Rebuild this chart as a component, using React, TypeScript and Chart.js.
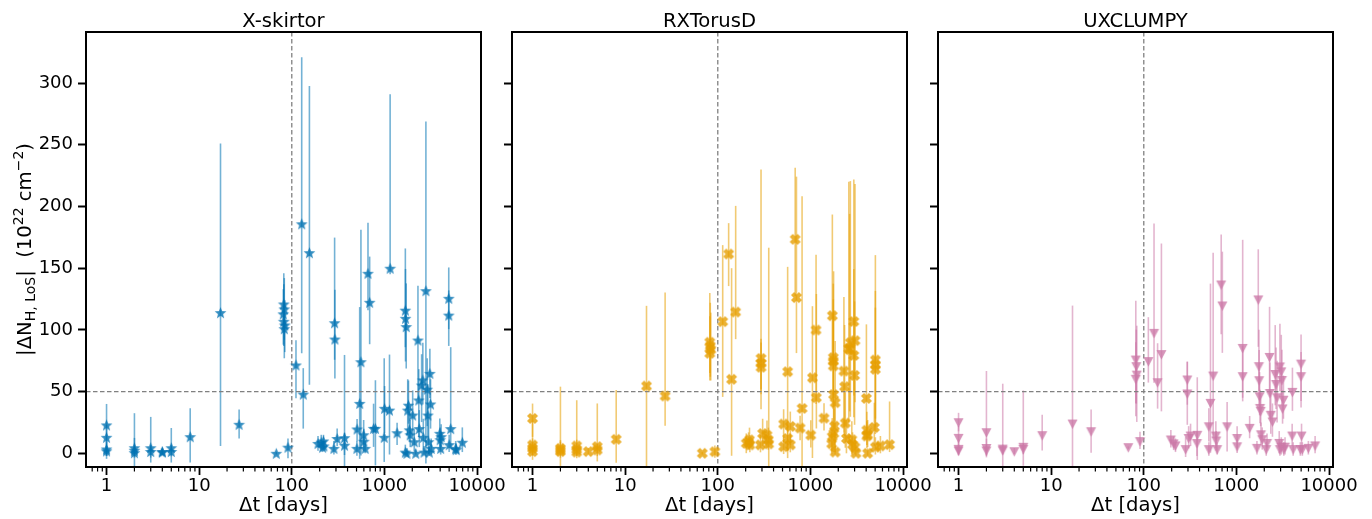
import React, { useEffect, useRef } from 'react';
import { Chart, registerables } from 'chart.js';

Chart.register(...registerables);

const FONT = "'DejaVu Sans', sans-serif";
Chart.defaults.font.family = FONT;

const panelTitles = ['X-skirtor', 'RXTorusD', 'UXCLUMPY'];
const xAxisLabel = 'Δt [days]';
const xTickValues = [
  0.7, 0.8, 0.9, 1, 2, 3, 4, 5, 6, 7, 8, 9, 10, 20, 30, 40, 50, 60, 70, 80, 90, 100,
  200, 300, 400, 500, 600, 700, 800, 900, 1000, 2000, 3000, 4000, 5000, 6000, 7000, 8000, 9000, 10000,
];
const xMajorTicks = [1, 10, 100, 1000, 10000];
const yTickValues = [0, 50, 100, 150, 200, 250, 300];
const xRange = [0.638, 11040];
const yRange = [-11.1, 341.4];
const refDt = 100;
const refNh = 50;

// [Δt (days), |ΔNH| (1e22 cm^-2), lower error, upper error]
const skirtorPoints = [
  [1, 23, 25, 17], [1, 13, 15, 10], [1, 3.5, 8, 6], [1, 2, 4, 4],
  [2, 4.5, 16, 28], [2, 2.5, 6, 10], [2, 0.5, 3, 5],
  [3, 4.5, 12, 25], [3, 1.5, 5, 5], [4, 1, 2, 3], [4, 1.5, 2, 2],
  [5, 4.5, 12, 16], [5, 1.5, 4, 5], [8, 13.5, 21, 23], [17, 114, 108, 137], [27, 23.5, 11.5, 12],
  [68, 0, 1, 1], [91, 5, 9, 7],
  [82, 121, 20, 25], [83, 117, 25, 25], [81, 113, 25, 20], [82, 107, 20, 30], [84, 104, 22, 20], [83, 101, 24, 20],
  [111, 71.6, 27, 20], [128, 186, 105, 135], [133, 48, 28, 21], [155, 162.6, 107, 135],
  [192, 8, 6, 6], [208, 9, 5, 6], [215, 5, 4, 5], [220, 10, 6, 5], [222, 6, 4, 4],
  [285, 4, 5, 6], [290, 105.8, 30, 69], [292, 92.6, 32, 40], [309, 12, 6, 8],
  [371, 12.7, 25, 67], [371, 6.6, 8, 10], [507, 19.7, 10, 8], [505, 4, 6, 6],
  [541, 40.5, 45, 78], [558, 74.2, 76, 107], [597, 15, 10, 12], [600, 9.8, 8, 10], [620, 4, 4, 6],
  [665, 145.9, 30, 41], [693, 122.4, 34, 37], [764, 20.2, 15, 20], [800, 20.2, 30, 39],
  [995, 13, 20, 64], [1005, 36.5, 20, 18], [1135, 35, 36, 45], [1153, 150, 5, 141], [1371, 16.7, 10, 8],
  [1683, 116, 30, 50], [1690, 109.4, 35, 40], [1720, 102.7, 34, 35], [1683, 1, 2, 6], [1750, 0, 1, 4],
  [1786, 35, 20, 25], [1820, 39, 15, 20], [1862, 19, 10, 15], [1900, 15, 10, 12], [2020, 31, 15, 20],
  [2100, 9.4, 8, 10], [2177, 0, 1, 3], [2303, 91.8, 48, 44], [2350, 43.2, 30, 25], [2380, 20, 15, 15],
  [2523, 55.3, 30, 25], [2600, 59.5, 20, 30], [2630, 13, 10, 15], [2680, 1, 2, 5], [2806, 131.8, 140, 137],
  [2900, 52, 30, 25], [2950, 31, 20, 25], [3000, 9.4, 10, 20], [3050, 1, 3, 5], [3097, 64.8, 20, 20],
  [3150, 40, 20, 20], [3200, 4, 5, 8], [3964, 16.2, 10, 12], [4000, 11, 8, 10], [4050, 4, 5, 8],
  [4100, 13.5, 8, 10], [4952, 125.6, 25, 25], [4952, 112, 25, 20], [5000, 7, 6, 8], [5200, 20, 15, 66],
  [5888, 4, 5, 6], [5950, 3, 4, 5], [6940, 9, 8, 12],
];

const rxtorusPoints = [
  [1, 28.3, 15, 12], [1, 6.7, 12, 20], [1, 4, 6, 8], [1, 1.4, 3, 5],
  [2, 4, 15, 50], [2, 1.4, 5, 8], [2, 2.7, 5, 8],
  [3, 6, 10, 37], [3, 3, 5, 8], [3, 1, 3, 5], [4, 1.4, 2, 3],
  [5, 5.4, 12, 35], [5, 2.7, 5, 5], [8, 11.3, 19, 40], [17, 54.5, 68, 65], [27, 46.4, 24, 84],
  [68, 0, 1, 1], [93, 1.3, 5, 5],
  [82, 90, 25, 40], [83, 87, 25, 35], [84, 84, 25, 30], [82, 81, 22, 30],
  [113, 106.7, 61, 62], [131, 161.5, 26, 25], [141, 60, 62, 90], [156, 114.5, 22, 86],
  [203, 8.1, 8, 8], [215, 9, 6, 8], [220, 10.8, 8, 10], [222, 6.8, 6, 8], [289, 6.8, 6, 8],
  [293, 76.9, 25, 153], [293, 72.9, 25, 20], [293, 69.7, 34, 20], [305, 16, 10, 12],
  [340, 14.6, 10, 12], [352, 10.8, 8, 10], [355, 7.6, 20, 159],
  [514, 23.7, 15, 12], [514, 5.4, 6, 8], [568, 66.1, 70, 85], [568, 12, 10, 12],
  [607, 21.8, 15, 12], [607, 6.8, 6, 8], [685, 173.4, 46, 58], [707, 126.2, 45, 98],
  [774, 20.5, 10, 10], [813, 36.4, 50, 172], [1010, 14.7, 10, 12], [1052, 61.2, 65, 58],
  [1151, 99.9, 60, 61], [1160, 45.1, 25, 84], [1403, 28.5, 10, 12],
  [1726, 111.5, 40, 82], [1766, 77.5, 30, 60], [1766, 74.8, 30, 50], [1766, 70.8, 35, 40],
  [1780, 47.5, 30, 100], [1790, 16, 15, 20], [1720, 13.5, 12, 15], [1700, 7.7, 8, 10],
  [1820, 22, 15, 20], [1850, 41, 40, 50], [1850, 1, 2, 5],
  [2300, 66.6, 50, 60], [2340, 54, 40, 50], [2380, 24.5, 20, 25], [2450, 12, 12, 15],
  [2600, 85, 60, 135], [2650, 84, 50, 110], [2700, 89.6, 60, 131], [2800, 11, 12, 15], [2850, 7, 8, 10],
  [2944, 106.8, 60, 115], [2944, 79.3, 50, 70], [3000, 63.1, 40, 60], [3030, 91.3, 50, 127],
  [3030, 5, 6, 8], [3100, 0, 2, 5],
  [4025, 44.5, 30, 60], [4070, 18.7, 12, 15], [4070, 14, 10, 12], [4150, 15, 10, 12], [4150, 0, 2, 4],
  [4900, 21, 15, 20], [5030, 75.6, 60, 85], [5030, 71.6, 50, 60], [5030, 68.1, 40, 50], [5030, 5, 6, 8],
  [5700, 6, 6, 8], [7160, 7, 6, 35],
];

const uxclumpyPoints = [
  [1, 24.8, 7, 8], [1, 12.1, 8, 10], [1, 3.2, 5, 8], [1, 1.9, 3, 5],
  [2, 16.7, 20, 50], [2, 3.9, 6, 8], [2, 1.9, 3, 5],
  [3, 3.4, 15, 53], [3, 2.1, 3, 5], [4, 1.3, 2, 3],
  [5, 4.9, 15, 46], [5, 3.2, 4, 5], [8, 14.3, 12, 17], [17, 23.7, 35, 96], [27, 17.5, 17, 18],
  [68, 4.6, 1, 1], [91, 9.5, 6, 8],
  [82, 75.6, 35, 48], [83, 70.2, 30, 30], [84, 63.4, 38, 40], [82, 60, 30, 30],
  [112, 74.3, 17, 36], [129, 97.2, 40, 89], [141, 57.2, 21, 32], [155, 80, 46, 90],
  [196, 10.8, 6, 8], [210, 7.6, 5, 6], [220, 6, 5, 6], [283, 3, 6, 10],
  [295, 59.4, 20, 15], [295, 48.1, 25, 26], [305, 12, 8, 10], [320, 14, 8, 10],
  [378, 14.6, 20, 47], [375, 7.9, 10, 10], [504, 21.5, 12, 15], [504, 3, 5, 6],
  [525, 40.5, 40, 97], [561, 62.6, 50, 100], [600, 14, 10, 12], [605, 10, 8, 8], [620, 3, 4, 6],
  [685, 136.4, 40, 41], [705, 119.4, 38, 44], [794, 21.5, 20, 20],
  [1018, 12, 8, 10], [1018, 5.3, 5, 6], [1169, 85, 40, 88], [1169, 62.1, 20, 25], [1390, 20.2, 8, 10],
  [1667, 4, 5, 6], [1722, 124.3, 38, 41], [1750, 70.2, 20, 30], [1760, 58.8, 20, 25],
  [1780, 45.8, 15, 20], [1800, 36.4, 12, 15], [1830, 34, 12, 15], [1842, 15, 8, 10], [1900, 11, 8, 10],
  [2100, 3, 5, 6], [2140, 8, 6, 8], [2280, 77.7, 30, 41], [2300, 48.5, 20, 25], [2350, 30.8, 15, 20],
  [2450, 25.4, 12, 15], [2624, 63.9, 25, 40], [2680, 55.8, 20, 30], [2750, 45, 20, 30],
  [2900, 8, 8, 10], [2950, 3, 5, 6], [2950, 70, 20, 35], [3050, 5, 6, 8], [3050, 66, 20, 30],
  [3100, 59, 20, 25], [3150, 36, 12, 15], [3220, 43, 15, 20], [3250, 3, 5, 6], [3350, 5, 6, 8],
  [4000, 14, 8, 10], [4027, 49.4, 15, 20], [4100, 3, 5, 6], [4900, 3, 5, 6],
  [4990, 72.3, 30, 24], [4990, 62.1, 25, 20], [5050, 14, 8, 10], [5150, 3, 5, 6],
  [5983, 4, 5, 6], [7075, 6, 6, 8],
];

const panelData = [skirtorPoints, rxtorusPoints, uxclumpyPoints];
const panelRgb = ['0,114,178', '230,159,0', '204,121,167'];
const panelMarkers = ['star', 'x', 'tri'];

const layoutCfg = [
  { left: 0, width: 520, yAxisWidth: 86, rightPad: 39, yLabels: true },
  { left: 490, width: 470, yAxisWidth: 22, rightPad: 53, yLabels: false },
  { left: 915, width: 457, yAxisWidth: 23, rightPad: 39, yLabels: false },
];

const TICK_SIZE = 18;
const LABEL_SIZE = 19.6;

function makeMarker(kind: string, rgb: string) {
  const size = 13;
  const c = document.createElement('canvas');
  c.width = size;
  c.height = size;
  const g = c.getContext('2d')!;
  const cx = size / 2;
  const cy = size / 2;
  g.fillStyle = `rgba(${rgb},0.8)`;
  g.beginPath();
  if (kind === 'star') {
    const R = 6.2;
    const r = R * 0.43;
    for (let i = 0; i < 10; i++) {
      const a = -Math.PI / 2 + (i * Math.PI) / 5;
      const rad = i % 2 === 0 ? R : r;
      g.lineTo(cx + rad * Math.cos(a), cy + 0.7 + rad * Math.sin(a));
    }
    g.closePath();
  } else if (kind === 'x') {
    const R = 5.6;
    const w = 2.2;
    for (const ang of [Math.PI / 4, -Math.PI / 4]) {
      const ca = Math.cos(ang);
      const sa = Math.sin(ang);
      const pts = [[-R, -w], [R, -w], [R, w], [-R, w]];
      pts.forEach(([px, py], i) => {
        const X = cx + px * ca - py * sa;
        const Y = cy + px * sa + py * ca;
        if (i === 0) g.moveTo(X, Y);
        else g.lineTo(X, Y);
      });
      g.closePath();
    }
  } else {
    g.moveTo(1.5, 2);
    g.lineTo(size - 1.5, 2);
    g.lineTo(cx, size - 1.5);
    g.closePath();
  }
  g.fill('nonzero');
  return c;
}

function drawYLabel(ctx: CanvasRenderingContext2D, cx: number, cy: number) {
  const big = LABEL_SIZE;
  const small = 14;
  const parts = [
    { t: '|ΔN', s: big, dy: 0 },
    { t: 'H, LoS', s: small, dy: 4 },
    { t: '|', s: big, dy: 0 },
    { t: '  (10', s: big, dy: 0 },
    { t: '22', s: small, dy: -8 },
    { t: ' cm', s: big, dy: 0 },
    { t: '−2', s: small, dy: -8 },
    { t: ')', s: big, dy: 0 },
  ];
  let total = 0;
  const widths = parts.map((p) => {
    ctx.font = `${p.s}px ${FONT}`;
    const w = ctx.measureText(p.t).width;
    total += w;
    return w;
  });
  ctx.save();
  ctx.translate(cx, cy);
  ctx.rotate(-Math.PI / 2);
  ctx.fillStyle = '#000';
  ctx.textAlign = 'left';
  ctx.textBaseline = 'alphabetic';
  let x = -total / 2;
  parts.forEach((p, i) => {
    ctx.font = `${p.s}px ${FONT}`;
    ctx.fillText(p.t, x, p.dy);
    x += widths[i];
  });
  ctx.restore();
}

const isMajor = (v: number) => xMajorTicks.includes(v);

export default function App() {
  const refs = [useRef<HTMLCanvasElement>(null), useRef<HTMLCanvasElement>(null), useRef<HTMLCanvasElement>(null)];

  useEffect(() => {
    const charts: Chart[] = [];
    panelData.forEach((points, idx) => {
      const canvas = refs[idx].current;
      if (!canvas) return;
      const cfg = layoutCfg[idx];
      const rgb = panelRgb[idx];
      const marker = makeMarker(panelMarkers[idx], rgb);
      const title = panelTitles[idx];

      const decor = {
        id: 'decor' + idx,
        beforeDatasetsDraw(chart: any) {
          const { ctx, chartArea: a, scales } = chart;
          const x = scales.x;
          const y = scales.y;
          ctx.save();
          ctx.beginPath();
          ctx.rect(a.left, a.top, a.right - a.left, a.bottom - a.top);
          ctx.clip();
          ctx.strokeStyle = `rgba(${rgb},0.55)`;
          ctx.lineWidth = 1.6;
          points.forEach((p) => {
            const px = x.getPixelForValue(p[0]);
            ctx.beginPath();
            ctx.moveTo(px, y.getPixelForValue(p[1] - p[2]));
            ctx.lineTo(px, y.getPixelForValue(p[1] + p[3]));
            ctx.stroke();
          });
          ctx.setLineDash([4.5, 2.5]);
          ctx.strokeStyle = '#808080';
          ctx.lineWidth = 1.3;
          const vx = x.getPixelForValue(refDt);
          ctx.beginPath();
          ctx.moveTo(vx, a.top);
          ctx.lineTo(vx, a.bottom);
          ctx.stroke();
          const hy = y.getPixelForValue(refNh);
          ctx.beginPath();
          ctx.moveTo(a.left, hy);
          ctx.lineTo(a.right, hy);
          ctx.stroke();
          ctx.restore();
        },
        afterDraw(chart: any) {
          const { ctx, chartArea: a, scales } = chart;
          const x = scales.x;
          ctx.save();
          ctx.strokeStyle = '#000';
          ctx.lineWidth = 1.2;
          xTickValues.forEach((v) => {
            if (isMajor(v)) return;
            const px = x.getPixelForValue(v);
            ctx.beginPath();
            ctx.moveTo(px, a.bottom);
            ctx.lineTo(px, a.bottom + 4.5);
            ctx.stroke();
          });
          ctx.lineWidth = 2;
          ctx.strokeRect(a.left, a.top, a.right - a.left, a.bottom - a.top);
          ctx.fillStyle = '#000';
          ctx.font = `${LABEL_SIZE}px ${FONT}`;
          ctx.textAlign = 'center';
          ctx.textBaseline = 'alphabetic';
          ctx.fillText(title, (a.left + a.right) / 2, 27);
          if (cfg.yLabels) drawYLabel(ctx, 31, (a.top + a.bottom) / 2);
          ctx.restore();
        },
      };

      const chart = new Chart(canvas, {
        type: 'scatter',
        data: {
          datasets: [
            {
              data: points.map((p) => ({ x: p[0], y: p[1] })),
              pointStyle: marker as any,
              pointRadius: 6,
              pointHoverRadius: 6,
            },
          ],
        },
        options: {
          responsive: false,
          animation: false,
          events: [],
          layout: { padding: { left: 0, top: 32, right: cfg.rightPad, bottom: 0 } },
          plugins: { legend: { display: false }, tooltip: { enabled: false } },
          scales: {
            x: {
              type: 'logarithmic',
              min: xRange[0],
              max: xRange[1],
              afterBuildTicks: (s: any) => {
                s.ticks = xTickValues.map((v) => ({ value: v, major: isMajor(v) }));
              },
              afterFit: (s: any) => {
                s.height = 52;
              },
              ticks: {
                autoSkip: false,
                maxRotation: 0,
                minRotation: 0,
                padding: 1,
                color: '#000',
                font: { family: FONT, size: TICK_SIZE },
                callback: (v: any) => (isMajor(Number(v)) ? String(v) : ''),
              },
              grid: {
                display: true,
                drawOnChartArea: false,
                drawTicks: true,
                tickLength: 8,
                tickWidth: 1.8,
                tickColor: (c: any) => (c.tick && isMajor(c.tick.value) ? '#000' : 'rgba(0,0,0,0)'),
              },
              border: { display: false },
              title: {
                display: true,
                text: xAxisLabel,
                color: '#000',
                font: { family: FONT, size: LABEL_SIZE },
                padding: { top: 0, bottom: 1 },
              },
            },
            y: {
              type: 'linear',
              min: yRange[0],
              max: yRange[1],
              afterBuildTicks: (s: any) => {
                s.ticks = yTickValues.map((v) => ({ value: v }));
              },
              afterFit: (s: any) => {
                s.width = cfg.yAxisWidth;
              },
              ticks: {
                padding: 5,
                color: '#000',
                font: { family: FONT, size: TICK_SIZE },
                callback: (v: any) => (cfg.yLabels ? String(v) : ''),
              },
              grid: {
                display: true,
                drawOnChartArea: false,
                drawTicks: true,
                tickLength: 8,
                tickWidth: 2,
                tickColor: '#000',
              },
              border: { display: false },
            },
          },
        } as any,
        plugins: [decor],
      });
      charts.push(chart);
    });
    return () => charts.forEach((c) => c.destroy());
  }, []);

  return (
    <div style={{ position: 'absolute', left: 0, top: 0, width: 1372, height: 519, background: '#fff' }}>
      {layoutCfg.map((cfg, i) => (
        <canvas
          key={i}
          ref={refs[i]}
          width={cfg.width}
          height={519}
          style={{ position: 'absolute', left: cfg.left, top: 0, width: cfg.width, height: 519 }}
        />
      ))}
    </div>
  );
}
